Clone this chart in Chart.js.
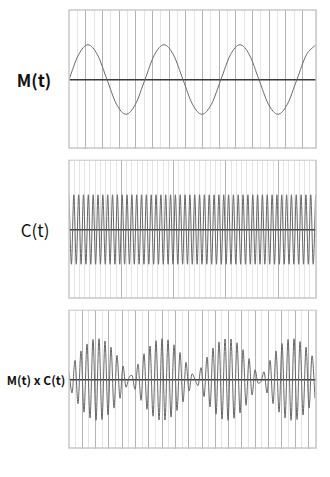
<!DOCTYPE html>
<html><head><meta charset="utf-8">
<script src="https://cdn.jsdelivr.net/npm/chart.js@4.4.1/dist/chart.umd.min.js"></script>
<style>
html,body{margin:0;padding:0;background:#fff;width:330px;height:477px;overflow:hidden;}
.lbl{position:absolute;font-family:'Noto Sans CJK JP','Noto Sans',sans-serif;color:#111;white-space:nowrap;transform:translate(-50%,-50%);line-height:1;}
.box{position:absolute;left:67px;width:251px;}
.sep{position:absolute;left:68px;width:249px;height:1px;background:#efefef;}
</style></head><body>
<div class="lbl" style="left:34px;top:79px;font-size:17px;font-weight:bold;">M(t)</div>
<div class="lbl" style="left:35px;top:229px;font-size:17px;">C(t)</div>
<div class="lbl" style="left:36px;top:380px;font-size:12px;font-weight:bold;">M(t) x C(t)</div>
<div class="box" style="top:8px;height:141px"><canvas id="c1"></canvas></div>
<div class="box" style="top:158px;height:141px"><canvas id="c2"></canvas></div>
<div class="box" style="top:308px;height:141px"><canvas id="c3"></canvas></div>
<div class="sep" style="top:159px"></div>
<div class="sep" style="top:309px"></div>
<script>
// ---- data ----
// M(t): samples every 1/8 of a period (axis units between x ticks)
const mStep = 0.569;
const mValues = [0,0.71,1,0.71,0,-0.71,-1,-0.71,0,0.71,1,0.71,0,-0.71,-1,-0.71,0,0.71,1,0.71,0,-0.71,-1,-0.71,0,0.71,1];
const mTickLabels = ['0.1','0.2','0.3','0.4','0.5','0.6','0.7','0.8','0.9','1.0','1.1','1.2','1.3','1.4'];
const mMax = 14.8;

// C(t): peaks and troughs, every half period
const cStep = 0.0462;
const cValues = [1,-1,1,-1,1,-1,1,-1,1,-1,1,-1,1,-1,1,-1,1,-1,1,-1,
 1,-1,1,-1,1,-1,1,-1,1,-1,1,-1,1,-1,1,-1,1,-1,1,-1,
 1,-1,1,-1,1,-1,1,-1,1,-1,1,-1,1,-1,1,-1,1,-1,1,-1,
 1,-1,1,-1,1,-1,1,-1,1,-1,1,-1,1,-1,1,-1,1,-1,1,-1,
 1,-1,1,-1,1,-1,1,-1,1,-1,1,-1,1,-1,1,-1,1,-1,1,-1,1,-1,1];
const cTickLabels = ['0.5','1.0','1.5','2.0'];
const cMax = 4.72;

// M(t) x C(t): peaks and troughs, every half period of the carrier
const pStep = 0.2256;
const pValues = [0.19,-0.33,0.47,-0.59,0.70,-0.80,0.87,-0.94,0.98,-1.00,1.00,-0.98,0.94,-0.87,0.79,-0.70,0.59,-0.46,0.33,-0.19,0.05,
 0.10,-0.24,0.38,-0.51,0.63,-0.73,0.82,-0.90,0.95,-0.99,1.00,-0.99,0.97,-0.92,0.85,-0.76,0.66,-0.55,0.42,-0.28,0.14,0.00,
 -0.15,0.29,-0.42,0.55,-0.67,0.77,-0.85,0.92,-0.97,0.99,-1.00,0.99,-0.95,0.90,-0.82,0.73,-0.63,0.51,-0.38,0.24,-0.09,
 -0.05,0.19,-0.33,0.47,-0.59,0.70,-0.80,0.88,-0.94,0.98,-1.00,1.00,-0.98,0.93,-0.87,0.79,-0.70,0.58,-0.46];
const pTickLabels = ['1','2','3','4','5','6','7','8','9','10','11','12','13','14','15','16','17','18'];
const pMax = 18.57;

// ---- drawing ----
const frame = {
  id:'frame',
  afterDraw(chart){
    const ca = chart.chartArea, ctx = chart.ctx;
    ctx.save();
    ctx.strokeStyle = '#c9c9c9';
    ctx.lineWidth = 1.5;
    ctx.strokeRect(ca.left, ca.top, ca.right-ca.left, chart.height-1-ca.top);
    ctx.restore();
  }
};

function isWhole(v){ return Math.abs(v-Math.round(v))<1e-6; }

function makeChart(id, values, step, max, labels, stepSize, yLim, color){
  const pts = values.map((v,i)=>({x:i*step, y:v}));
  new Chart(document.getElementById(id), {
    type:'line',
    data:{datasets:[{data:pts, borderColor:color, borderWidth:1, pointRadius:0,
      cubicInterpolationMode:'monotone', fill:false}]},
    options:{
      responsive:true, maintainAspectRatio:false, animation:false,
      layout:{padding:{left:2,right:2,top:2,bottom:0}},
      plugins:{legend:{display:false}, tooltip:{enabled:false}},
      scales:{
        x:{type:'linear', min:0, max:max,
          border:{display:false},
          grid:{drawTicks:false,
            color:c=>{const v=c.tick?c.tick.value:0; if(v===0) return 'rgba(0,0,0,0)'; return isWhole(v)?'#b3b3b3':'#e4e4e4';},
            lineWidth:1},
          ticks:{stepSize:stepSize, autoSkip:false, maxRotation:0, padding:-3,
            color:'#9a9a9a', font:{size:4},
            callback:v=>{ if(isWhole(v) && v>0){ const l=labels[Math.round(v)-1]; return l===undefined?'':l;} return ''; }}
        },
        y:{min:-yLim, max:yLim,
          border:{display:false},
          grid:{drawTicks:false, color:c=>c.tick && c.tick.value===0 ? '#3a3a3a' : 'rgba(0,0,0,0)', lineWidth:1.5},
          ticks:{display:false, stepSize:yLim}
        }
      }
    },
    plugins:[frame]
  });
}

makeChart('c1', mValues, mStep, mMax, mTickLabels, 0.5, 2, '#6a6a6a');
makeChart('c2', cValues, cStep, cMax, cTickLabels, 0.1, 2, '#666');
makeChart('c3', pValues, pStep, pMax, pTickLabels, 0.5, 1.7, '#666');
</script>
</body></html>
